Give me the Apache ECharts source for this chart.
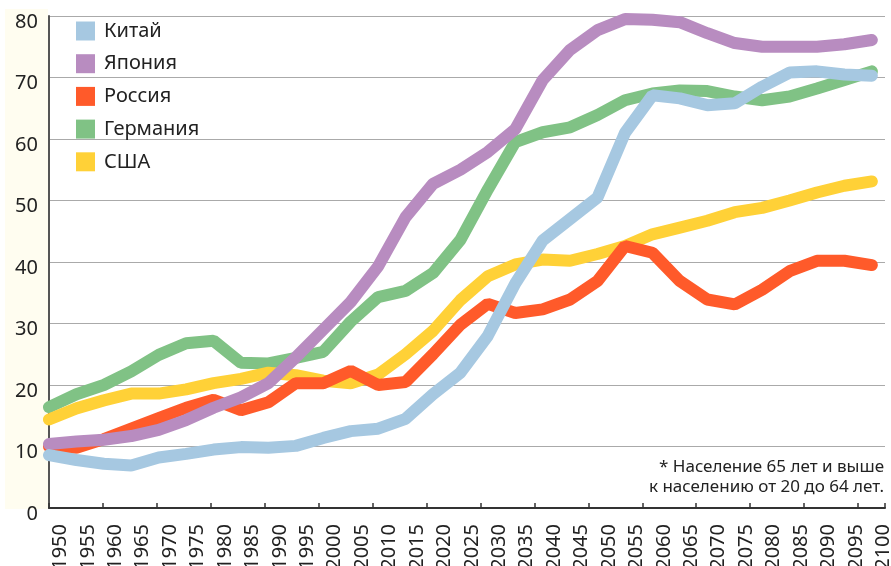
<!DOCTYPE html>
<html>
<head>
<meta charset="utf-8">
<script src="https://cdn.jsdelivr.net/npm/echarts@6/dist/echarts.min.js"></script>
<style>
  html, body { margin: 0; padding: 0; background: #fff; }
  #chart { width: 891px; height: 566px; }
</style>
</head>
<body>
<div id="chart"></div>
<script>
// годы по оси X
const years = [1950, 1955, 1960, 1965, 1970, 1975, 1980, 1985, 1990, 1995, 2000,
  2005, 2010, 2015, 2020, 2025, 2030, 2035, 2040, 2045, 2050, 2055, 2060,
  2065, 2070, 2075, 2080, 2085, 2090, 2095, 2100]

const china = [8.6, 7.8, 7.2, 6.9, 8.2, 8.8, 9.5, 9.9, 9.8, 10.1, 11.4,
  12.5, 12.9, 14.5, 18.5, 22.0, 28.0, 36.5, 43.5, 47.0, 50.5, 61.0, 67.1,
  66.6, 65.5, 65.8, 68.5, 70.8, 71.0, 70.5, 70.3]
const japan = [10.4, 10.8, 11.1, 11.7, 12.7, 14.3, 16.3, 18.0, 20.3, 24.5, 29.0,
  33.5, 39.3, 47.3, 52.7, 55.0, 57.9, 61.6, 69.6, 74.5, 77.7, 79.5, 79.4,
  79.0, 77.2, 75.6, 75.0, 75.0, 75.0, 75.4, 76.1]
const russia = [10.0, 9.8, 11.2, 12.9, 14.6, 16.3, 17.6, 15.9, 17.2, 20.3, 20.3,
  22.3, 20.0, 20.5, 25.0, 29.8, 33.2, 31.7, 32.3, 33.9, 36.9, 42.6, 41.5,
  36.9, 33.9, 33.1, 35.5, 38.5, 40.2, 40.2, 39.5]
const germany = [16.4, 18.5, 20.0, 22.2, 24.9, 26.8, 27.2, 23.6, 23.5, 24.4, 25.4,
  30.3, 34.3, 35.3, 38.2, 43.6, 51.8, 59.5, 61.1, 61.9, 63.9, 66.3, 67.4,
  67.9, 67.8, 66.9, 66.3, 66.9, 68.2, 69.6, 71.0]
const usa = [14.4, 16.2, 17.5, 18.6, 18.6, 19.3, 20.3, 21.0, 22.0, 21.6, 20.7,
  20.3, 21.7, 25.0, 28.8, 33.8, 37.7, 39.6, 40.4, 40.2, 41.3, 42.6, 44.5,
  45.6, 46.7, 48.1, 48.8, 50.0, 51.3, 52.4, 53.1]

const legendNames = ['Китай', 'Япония', 'Россия', 'Германия', 'США']
const noteLines = ['* Население 65 лет и выше', 'к населению от 20 до 64 лет.']

const font = '"Noto Sans", "DejaVu Sans", sans-serif'
const chart = echarts.init(document.getElementById('chart'))

function pts(values) {
  return values.map((v, i) => [years[i], v])
}

function line(name, values, color) {
  return {
    name,
    type: 'line',
    data: pts(values),
    xAxisIndex: 0,
    symbol: 'none',
    clip: true,
    itemStyle: { color },
    lineStyle: { color, width: 12, cap: 'round' },
    emphasis: { disabled: true }
  }
}

chart.setOption({
  animation: false,
  textStyle: { fontFamily: font },
  grid: { left: 49, right: 6, top: 16, bottom: 58, outerBoundsMode: 'none' },
  graphic: [
    {
      type: 'rect', z: -10,
      shape: { x: 5, y: 9, width: 43, height: 500 },
      style: { fill: '#fffdf0' }
    },
    {
      type: 'text', right: 7, top: 457,
      style: {
        text: noteLines.join('\n'), font: '17px ' + font,
        fill: '#222', textAlign: 'right', lineHeight: 20
      }
    }
  ],
  legend: {
    data: legendNames,
    orient: 'vertical',
    left: 76,
    top: 21,
    padding: 0,
    icon: 'rect',
    itemWidth: 19,
    itemHeight: 19,
    itemGap: 12.7,
    selectedMode: false,
    textStyle: { fontSize: 20, color: '#222', fontFamily: font, padding: [0, 0, 0, 4] }
  },
  xAxis: [
    {
      // ось данных: подписи годов
      type: 'value',
      position: 'bottom',
      min: 1950,
      max: 2102.4,
      interval: 5,
      axisLine: { show: false },
      axisTick: { show: false },
      splitLine: { show: false },
      axisLabel: {
        rotate: 90,
        margin: 16,
        fontSize: 20,
        color: '#222',
        verticalAlign: 'top',
        lineHeight: 23,
        formatter: v => (v <= 2100 && v % 5 === 0 ? String(v) : '')
      }
    },
    {
      // засечки
      type: 'category',
      position: 'bottom',
      data: years,
      boundaryGap: true,
      axisLine: { show: true, lineStyle: { color: '#333', width: 2 } },
      axisTick: { show: true, inside: true, length: 5, lineStyle: { color: '#333', width: 1.5 } },
      axisLabel: { show: false },
      splitLine: { show: false }
    }
  ],
  yAxis: {
    type: 'value',
    min: 0,
    max: 80,
    interval: 10,
    axisLine: { show: true, lineStyle: { color: '#555', width: 2 } },
    axisTick: { show: false },
    splitLine: { lineStyle: { color: '#aaa', width: 1 } },
    axisLabel: { fontSize: 20, color: '#222', margin: 11, verticalAlign: 'top', lineHeight: 12 }
  },
  series: [
    line('Германия', germany, '#80c285'),
    line('США', usa, '#ffd137'),
    line('Россия', russia, '#ff5a2a'),
    line('Япония', japan, '#b88cc0'),
    line('Китай', china, '#a6c8e1')
  ]
})
</script>
</body>
</html>
